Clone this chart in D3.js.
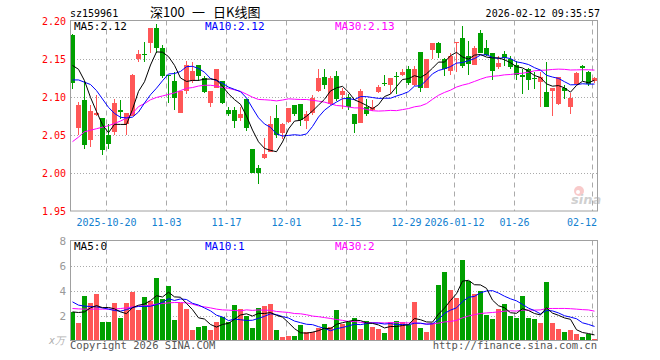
<!DOCTYPE html>
<html>
<head>
<meta charset="utf-8">
<script src="https://cdn.jsdelivr.net/npm/d3@7"></script>
<style>
  body { margin: 0; background: #fff; }
  text { font-family: "DejaVu Sans Mono", monospace; font-size: 10px; }
</style>
</head>
<body>
<div id="chart"></div>
<script>
// Daily K data, one entry per trading day
var opens  = [2.181,2.059,2.096,2.043,2.076,2.072,2.050,2.054,2.082,2.064,2.075,2.149,2.156,2.170,2.190,2.164,2.128,2.121,2.078,2.107,2.121,2.141,2.124,2.092,2.112,2.121,2.083,2.083,2.072,2.097,
              2.032,2.007,2.020,2.027,2.072,2.053,2.067,2.089,2.091,2.068,2.078,2.108,2.126,2.090,2.127,2.102,2.099,2.077,2.065,2.086,2.082,2.106,2.118,2.116,2.127,2.128,2.137,2.115,2.159,2.111,
              2.161,2.170,2.150,2.134,2.170,2.177,2.154,2.141,2.184,2.164,2.158,2.139,2.156,2.150,2.141,2.129,2.136,2.124,2.119,2.106,2.108,2.090,2.111,2.086,2.117,2.140,2.133,2.121];
var highs  = [2.182,2.093,2.121,2.089,2.102,2.072,2.064,2.097,2.096,2.078,2.130,2.161,2.172,2.190,2.195,2.168,2.128,2.133,2.107,2.147,2.145,2.141,2.127,2.108,2.136,2.121,2.086,2.086,2.086,2.097,
              2.032,2.011,2.046,2.075,2.089,2.066,2.085,2.089,2.091,2.081,2.102,2.136,2.137,2.127,2.134,2.112,2.103,2.077,2.110,2.097,2.096,2.116,2.129,2.125,2.133,2.136,2.140,2.140,2.159,2.150,
              2.170,2.172,2.151,2.158,2.172,2.193,2.173,2.167,2.187,2.175,2.158,2.154,2.160,2.154,2.147,2.136,2.138,2.132,2.132,2.146,2.111,2.126,2.116,2.105,2.132,2.141,2.134,2.126];
var lows   = [2.110,2.050,2.031,2.034,2.075,2.023,2.032,2.050,2.071,2.050,2.075,2.145,2.145,2.158,2.158,2.125,2.092,2.083,2.078,2.104,2.118,2.121,2.105,2.086,2.111,2.090,2.075,2.059,2.068,2.055,
              2.000,1.985,2.018,2.027,2.046,2.044,2.065,2.075,2.062,2.057,2.076,2.106,2.110,2.089,2.094,2.084,2.083,2.052,2.065,2.075,2.081,2.105,2.114,2.104,2.103,2.127,2.116,2.114,2.106,2.111,
              2.150,2.151,2.127,2.129,2.133,2.138,2.129,2.141,2.157,2.153,2.122,2.136,2.140,2.136,2.122,2.104,2.109,2.110,2.086,2.086,2.075,2.089,2.097,2.077,2.116,2.121,2.114,2.118];
var closes = [2.118,2.089,2.037,2.081,2.078,2.030,2.038,2.092,2.080,2.078,2.129,2.156,2.155,2.190,2.164,2.127,2.127,2.098,2.107,2.141,2.134,2.127,2.106,2.108,2.136,2.092,2.077,2.068,2.077,2.059,
              2.000,2.000,2.025,2.064,2.050,2.064,2.085,2.077,2.069,2.077,2.098,2.124,2.115,2.124,2.097,2.108,2.086,2.064,2.108,2.077,2.086,2.113,2.117,2.124,2.126,2.133,2.118,2.137,2.112,2.150,
              2.170,2.158,2.137,2.154,2.172,2.140,2.143,2.164,2.158,2.155,2.134,2.144,2.151,2.139,2.129,2.126,2.122,2.123,2.126,2.087,2.111,2.126,2.108,2.098,2.131,2.138,2.117,2.124];
var volumes = [2.29,1.41,3.55,3.01,3.71,1.47,1.47,3.01,1.79,3.01,3.87,2.43,3.49,3.15,4.99,3.33,4.35,1.63,3.01,2.53,0.83,1.07,1.15,0.83,1.49,1.89,1.49,2.83,2.51,1.95,
               0.99,2.59,2.75,2.91,0.83,0.27,0.37,0.37,1.25,0.67,0.67,0.99,1.31,1.09,2.43,1.31,1.52,1.79,0.91,1.55,1.07,0.91,0.59,1.47,1.55,1.47,1.23,3.07,0.99,0.67,
               1.39,4.43,5.47,4.03,3.39,6.43,4.75,3.71,3.95,2.03,1.71,2.51,2.91,1.95,1.79,3.55,1.79,1.71,1.39,4.67,1.39,0.91,0.67,0.83,0.51,0.27,0.51,0.11];

// moving-average values at the left edge (history before the window)
var ma5Head  = [2.141,2.136,2.121,2.099];
var ma10Head = [2.122,2.122,2.119,2.116,2.108,2.097,2.086,2.078,2.073];
var ma30Head = [2.041,2.047,2.054,2.056,2.058,2.060,2.062,2.065,2.068,2.072,2.078,2.087,2.091,2.096,2.099,
                2.101,2.103,2.105,2.108,2.111,2.112,2.114,2.115,2.115,2.114,2.112,2.111,2.109,2.107];
var volMa5Head  = [2.29,2.24,2.29,2.61];
var volMa10Head = [3.09,2.83,2.75,2.72,2.69,2.61,2.51,2.40,2.35];
var volMa30Head = [2.56,2.53,2.51,2.51,2.51,2.51,2.51,2.51,2.56,2.61,2.69,2.75,2.77,2.83,2.91,
                   2.96,3.01,3.04,3.04,3.01,2.91,2.77,2.69,2.61,2.51,2.45,2.43,2.40,2.37];

var holidays = ["2026-01-01", "2026-01-02"];
var tickDates  = ["2025-10-20","2025-11-03","2025-11-17","2025-12-01","2025-12-15","2025-12-29","2026-01-12","2026-01-26","2026-02-12"];
var tickLabels = ["2025-10-20","11-03","11-17","12-01","12-15","12-29","2026-01-12","01-26","02-12"];
var priceTicks = [1.95, 2.00, 2.05, 2.10, 2.15, 2.20];
var volTicks = [2, 4, 6, 8];

var fmt = d3.timeFormat("%Y-%m-%d");
var dates = d3.timeDay.range(new Date(2025, 9, 10), new Date(2026, 1, 13))
    .filter(d => d.getDay() != 0 && d.getDay() != 6)
    .map(fmt)
    .filter(d => holidays.indexOf(d) < 0);

var data = dates.map(function(d, i) {
    return {date: d, open: opens[i], high: highs[i], low: lows[i], close: closes[i], vol: volumes[i]};
});

function movingAvg(values, n, head) {
    return values.map(function(v, i) {
        if (i < n - 1) return head[i];
        return d3.mean(values.slice(i - n + 1, i + 1));
    });
}

var ma5 = movingAvg(closes, 5, ma5Head);
var ma10 = movingAvg(closes, 10, ma10Head);
var ma30 = movingAvg(closes, 30, ma30Head);
var vma5 = movingAvg(volumes, 5, volMa5Head);
var vma10 = movingAvg(volumes, 10, volMa10Head);
var vma30 = movingAvg(volumes, 30, volMa30Head);

var UP = "#ff5757", DOWN = "#00a000", GRID = "#aaaaaa", FRAME = "#a0a0a0";

var svg = d3.select("#chart")
    .append("svg")
    .attr("width", 660)
    .attr("height", 360);

var x = d3.scaleBand()
    .domain(dates)
    .range([70, 598])
    .padding(0);

var y = d3.scaleLinear().domain([1.95, 2.20]).range([211, 20.5]);
var yv = d3.scaleLinear().domain([0, 8]).range([340.5, 240.5]);

// header
svg.append("text").attr("x", 70).attr("y", 17).attr("fill", "#000").text("sz159961");
var title = svg.append("g")
    .style("font-family", "'Noto Sans CJK SC', sans-serif").style("font-size", "13px");
title.append("text").attr("x", 150).attr("y", 17).style("font-family", "inherit").style("font-size", "inherit").text("深100");
title.append("text").attr("x", 192).attr("y", 17).style("font-family", "inherit").style("font-size", "inherit").text("一");
title.append("text").attr("x", 213).attr("y", 17).style("font-family", "inherit").style("font-size", "inherit").text("日K线图");
svg.append("text").attr("x", 600).attr("y", 17).attr("text-anchor", "end").attr("fill", "#000")
    .text("2026-02-12 09:35:57");

function panel(top, bottom, yScale, ticks) {
    var g = svg.append("g");
    // horizontal dotted grid
    g.selectAll(".hg").data(ticks).enter().append("line")
        .attr("x1", 71).attr("x2", 597)
        .attr("y1", d => Math.round(yScale(d)) + 0.5)
        .attr("y2", d => Math.round(yScale(d)) + 0.5)
        .attr("stroke", GRID).attr("stroke-dasharray", "1,2");
    // vertical dashed grid at the date ticks
    g.selectAll(".vg").data(tickDates).enter().append("line")
        .attr("x1", d => x(d) + 0.5).attr("x2", d => x(d) + 0.5)
        .attr("y1", top).attr("y2", bottom)
        .attr("stroke", GRID).attr("stroke-dasharray", "5,4");
    return g;
}

panel(20.5, 211, y, [2.00, 2.05, 2.10, 2.15]);
panel(240.5, 340, yv, [2, 4, 6]);

// candles
var candles = svg.append("g").attr("shape-rendering", "crispEdges");
candles.selectAll(".wick").data(data).enter().append("rect")
    .attr("x", d => x(d.date) + 2)
    .attr("width", 1)
    .attr("y", d => y(d.high))
    .attr("height", d => Math.max(1, y(d.low) - y(d.high)))
    .attr("fill", d => d.close >= d.open ? UP : DOWN);
candles.selectAll(".body").data(data).enter().append("rect")
    .attr("x", d => x(d.date))
    .attr("width", x.bandwidth() - 1)
    .attr("y", d => y(Math.max(d.open, d.close)))
    .attr("height", d => Math.max(1, Math.abs(y(d.open) - y(d.close))))
    .attr("fill", d => d.close >= d.open ? UP : DOWN);

// volume bars
svg.append("g").attr("shape-rendering", "crispEdges")
    .selectAll("rect").data(data).enter().append("rect")
    .attr("x", d => x(d.date))
    .attr("width", x.bandwidth() - 1)
    .attr("y", d => yv(d.vol))
    .attr("height", d => yv(0) - yv(d.vol))
    .attr("fill", d => d.close >= d.open ? UP : DOWN);

// moving average lines
function maLine(values, scale, color) {
    var line = d3.line()
        .x((d, i) => x(dates[i]) + 2.5)
        .y(d => scale(d));
    svg.append("path")
        .attr("d", line(values))
        .attr("fill", "none")
        .attr("stroke", color)
        .attr("stroke-width", 1);
}
maLine(ma30, y, "#ff00ff");
maLine(ma10, y, "#0000ff");
maLine(ma5, y, "#000000");
maLine(vma30, yv, "#ff00ff");
maLine(vma10, yv, "#0000ff");
maLine(vma5, yv, "#000000");

// frames
svg.append("rect").attr("x", 70.5).attr("y", 20.5).attr("width", 527).attr("height", 190.5)
    .attr("fill", "none").attr("stroke", FRAME);
svg.append("rect").attr("x", 70.5).attr("y", 240.5).attr("width", 527).attr("height", 100)
    .attr("fill", "none").attr("stroke", FRAME);

// sina watermark
var wm = svg.append("g").attr("opacity", 0.55);
wm.append("circle").attr("cx", 579).attr("cy", 191).attr("r", 5).attr("fill", "#f4a0a0");
wm.append("circle").attr("cx", 578).attr("cy", 192).attr("r", 2).attr("fill", "#fff");
wm.append("text").attr("x", 571).attr("y", 204)
    .style("font-family", "'DejaVu Sans', sans-serif").style("font-size", "13px")
    .style("font-style", "italic").style("font-weight", "bold")
    .attr("fill", "#aaaaaa").text("sina");

// price axis labels
svg.selectAll(".pl").data(priceTicks).enter().append("text")
    .attr("x", 66).attr("y", d => y(d) + 4)
    .attr("text-anchor", "end").attr("fill", "#ff0000")
    .text(d => d.toFixed(2));

// volume axis labels
svg.selectAll(".vl").data(volTicks).enter().append("text")
    .attr("x", 66).attr("y", d => yv(d) + 4)
    .attr("text-anchor", "end").attr("fill", "#999999")
    .style("font-size", "11px")
    .text(d => d);
svg.append("text").attr("x", 49).attr("y", 344)
    .style("font-style", "italic").attr("fill", "#b0b0b0")
    .text("x万");

// date labels
svg.selectAll(".dl").data(tickDates).enter().append("text")
    .attr("x", (d, i) => i == tickDates.length - 1 ? 597 : x(d) + 0.5)
    .attr("y", 226)
    .attr("text-anchor", (d, i) => i == tickDates.length - 1 ? "end" : "middle")
    .attr("fill", "#1280d0")
    .text((d, i) => tickLabels[i]);

// MA legends
var last = dates.length - 1;
var legends = [
    {x: 74, y: 30, color: "#000000", text: "MA5:" + ma5[last].toFixed(2)},
    {x: 205, y: 30, color: "#0000ff", text: "MA10:" + ma10[last].toFixed(2)},
    {x: 335, y: 30, color: "#ff00ff", text: "MA30:" + ma30[last].toFixed(2)},
    {x: 74, y: 250, color: "#000000", text: "MA5:" + vma5[last].toFixed(0)},
    {x: 205, y: 250, color: "#0000ff", text: "MA10:" + vma10[last].toFixed(0)},
    {x: 335, y: 250, color: "#ff00ff", text: "MA30:" + vma30[last].toFixed(0)}
];
svg.selectAll(".lg").data(legends).enter().append("text")
    .attr("x", d => d.x).attr("y", d => d.y)
    .attr("fill", d => d.color)
    .style("font-size", "11px")
    .text(d => d.text);

// footer
svg.append("text").attr("x", 70).attr("y", 349).attr("fill", "#555").style("font-size", "10.5px")
    .text("Copyright 2026 SINA.COM");
svg.append("text").attr("x", 597).attr("y", 349).attr("text-anchor", "end").attr("fill", "#555")
    .style("font-size", "10.5px")
    .text("http://finance.sina.com.cn");
</script>
</body>
</html>
